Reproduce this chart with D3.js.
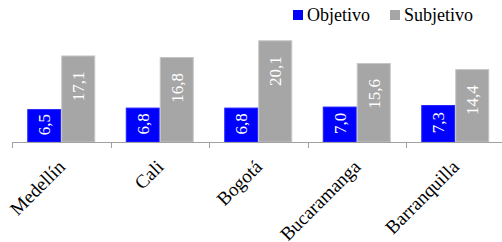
<!DOCTYPE html>
<html>
<head>
<meta charset="utf-8">
<script src="https://cdn.jsdelivr.net/npm/d3@7"></script>
<style>
  body { margin: 0; background: #fff; }
</style>
</head>
<body>
<svg width="502" height="242"></svg>
<script>
// chart data
const cities = ["Medellín", "Cali", "Bogotá", "Bucaramanga", "Barranquilla"]
const series = ["Objetivo", "Subjetivo"]
const objetivo = [6.5, 6.8, 6.8, 7.0, 7.3]
const subjetivo = [17.1, 16.8, 20.1, 15.6, 14.4]
const colors = ["#0000ff", "#a6a6a6"]
const edges = ["#2020ff", "#c4c4c4"]

const font = "'Liberation Serif', 'Times New Roman', serif"
const svg = d3.select("svg")

const axisY = 142
const left = 12
const step = 98.5

let x = d3.scaleBand()
    .domain(cities)
    .range([left, left + step * cities.length])
    .paddingInner(0.31)
    .paddingOuter(0.155)

let xSub = d3.scaleBand()
    .domain(series)
    .range([0, x.bandwidth()])

let y = d3.scaleLinear()
    .domain([0, 25])
    .range([axisY, axisY - 25 * 5.06])

let rows = cities.map((c, i) => ({city: c, values: [objetivo[i], subjetivo[i]]}))

// bars
let groups = svg.selectAll("g.city")
    .data(rows)
    .enter().append("g")
    .attr("class", "city")
    .attr("transform", d => `translate(${x(d.city)},0)`)

groups.selectAll("rect")
    .data(d => d.values.map((v, k) => ({s: series[k], v: v, k: k})))
    .enter().append("rect")
    .attr("x", d => xSub(d.s) + 0.5)
    .attr("y", d => y(d.v) + 0.5)
    .attr("width", xSub.bandwidth() - 1)
    .attr("height", d => axisY - y(d.v) - 0.5)
    .attr("fill", d => colors[d.k])
    .attr("stroke", d => edges[d.k])
    .attr("stroke-width", 1)

// value labels, rotated inside the bars
groups.selectAll("text")
    .data(d => d.values.map((v, k) => ({s: series[k], v: v, k: k})))
    .enter().append("text")
    .attr("transform", d => {
        let cx = xSub(d.s) + xSub.bandwidth() / 2
        let cy = d.k === 0 ? (y(d.v) + axisY) / 2 - 1 : y(d.v) + 16
        return `translate(${cx},${cy}) rotate(-90)`
    })
    .attr("text-anchor", d => d.k === 0 ? "middle" : "end")
    .attr("dy", "0.35em")
    .attr("fill", "#fff")
    .attr("font-family", font)
    .attr("font-size", 17)
    .text(d => d3.format(".1f")(d.v).replace(".", ","))

// x axis: line plus ticks at the category boundaries
svg.append("line")
    .attr("x1", left).attr("x2", 502)
    .attr("y1", axisY + 0.5).attr("y2", axisY + 0.5)
    .attr("stroke", "#a0a0a0")
    .attr("stroke-width", 1)

d3.range(cities.length + 1).forEach(i => {
    let tx = Math.round(left + step * i) + 0.5
    svg.append("line")
        .attr("x1", tx).attr("x2", tx)
        .attr("y1", axisY).attr("y2", axisY + 6)
        .attr("stroke", "#a0a0a0")
})

svg.selectAll("text.cat")
    .data(cities)
    .enter().append("text")
    .attr("class", "cat")
    .attr("transform", d => `translate(${x(d) + x.bandwidth() / 2 + 5},168) rotate(-45)`)
    .attr("text-anchor", "end")
    .attr("font-family", font)
    .attr("font-size", 19)
    .attr("fill", "#000")
    .text(d => d)

// legend
let legendX = [293, 390]
series.forEach((s, k) => {
    svg.append("rect")
        .attr("x", legendX[k]).attr("y", 10)
        .attr("width", 10).attr("height", 10)
        .attr("fill", colors[k])
    svg.append("text")
        .attr("x", legendX[k] + 14).attr("y", 21)
        .attr("font-family", font)
        .attr("font-size", 18)
        .attr("fill", "#000")
        .text(s)
})
</script>
</body>
</html>
